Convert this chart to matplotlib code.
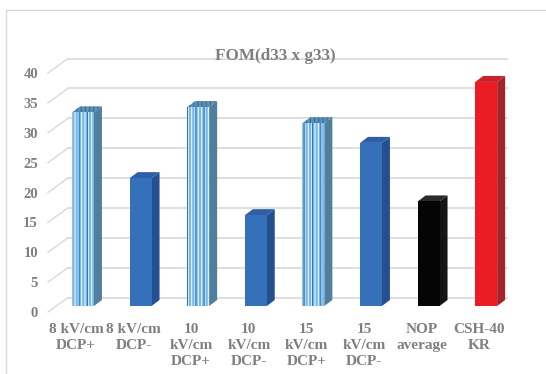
import matplotlib
matplotlib.use("Agg")
import matplotlib.pyplot as plt
import matplotlib.transforms as mtransforms
from matplotlib.patches import Polygon
from matplotlib.lines import Line2D

# ---- data ----
categories = ["8 kV/cm\nDCP+", "8 kV/cm\nDCP-", "10\nkV/cm\nDCP+", "10\nkV/cm\nDCP-",
              "15\nkV/cm\nDCP+", "15\nkV/cm\nDCP-", "NOP\naverage", "CSH-40\nKR"]
values = [32.4, 21.4, 33.3, 15.2, 30.6, 27.3, 17.5, 37.5]
styles = ["stripe", "blue", "stripe", "blue", "stripe", "blue", "black", "red"]
yticks = [0, 5, 10, 15, 20, 25, 30, 35, 40]
title = "FOM(d33 x g33)"

# ---- style ----
DPI = 100
W, H = 546, 374
plt.rcParams['font.family'] = ['Liberation Serif', 'DejaVu Serif']
plt.rcParams['hatch.linewidth'] = 0.8
GRAY = "#7f7f7f"
GRID = "#d9d9d9"

face = {
    "stripe": ("#7ab7e2", "#4f7f9c", "#5c8fb5"),
    "blue": ("#3570bb", "#25508f", "#2d5ea6"),
    "black": ("#050505", "#141414", "#2a2a2a"),
    "red": ("#ec1c24", "#a3252b", "#c8222a"),
}

fig = plt.figure(figsize=(W / DPI, H / DPI), dpi=DPI)
xmin, xmax = -0.7, 7.5
px_per_x = 57.6
px_per_y = 5.975
L = 83 - (0 - xmin) * px_per_x
axw = (xmax - xmin) * px_per_x
bottom_px = 306
ymax = 42
axh = ymax * px_per_y
ax = fig.add_axes([L / W, (H - bottom_px) / H, axw / W, axh / H])
ax.set_xlim(xmin, xmax)
ax.set_ylim(0, ymax)
for s in ax.spines.values():
    s.set_visible(False)
ax.patch.set_alpha(0)

# 3D offsets in data units
dep_x, dep_y = 8 / px_per_x, 6 / px_per_y          # bar depth
fr_x, fr_y = -8 / px_per_x, -6 / px_per_y         # front floor plane
bk_x, bk_y = 12 / px_per_x, 8.5 / px_per_y        # back wall plane
xg0 = -27 / px_per_x
xg1 = (507 - 83 - 12) / px_per_x

# gridlines (diagonal on side wall + horizontal on back wall)
for v in yticks:
    ax.add_line(Line2D([xg0 + fr_x, xg0 + bk_x], [v + fr_y, v + bk_y], color=GRID, lw=1.0,
                       zorder=0, clip_on=False))
    ax.add_line(Line2D([xg0 + bk_x, xg1 + bk_x], [v + bk_y, v + bk_y], color=GRID, lw=1.2,
                       zorder=0, clip_on=False))

bw = 0.38
for i, (v, st) in enumerate(zip(values, styles)):
    fc, sc, tc = face[st]
    x0, x1 = i - bw / 2, i + bw / 2
    side = Polygon([(x1, 0), (x1 + dep_x, dep_y), (x1 + dep_x, v + dep_y), (x1, v)],
                   closed=True, facecolor=sc, edgecolor='none', zorder=2)
    top = Polygon([(x0, v), (x1, v), (x1 + dep_x, v + dep_y), (x0 + dep_x, v + dep_y)],
                  closed=True, facecolor=tc, edgecolor='none', zorder=2)
    ax.add_patch(side)
    ax.add_patch(top)
    if st == "stripe":
        ax.bar(i, v, width=bw, color=fc, edgecolor='#e8f4ff', linewidth=0, hatch='|||||', zorder=3)
        ax.bar(i, v, width=bw, color='none', edgecolor='#1f7ad0', linewidth=0, hatch='||', zorder=3)
        top.set_hatch('||||')
        top.set_edgecolor('#3d6e96')
        top.set_linewidth(0)
    else:
        ax.bar(i, v, width=bw, color=fc, edgecolor='none', linewidth=0, zorder=3)

# ticks & labels
ax.set_yticks(yticks)
ax.set_yticklabels([str(t) for t in yticks], fontsize=10.5, fontweight='bold', color=GRAY)
ax.set_xticks(range(len(categories)))
ax.set_xticklabels(categories, fontsize=11, fontweight='bold', color=GRAY,
                   linespacing=1.3, multialignment='center')
ax.tick_params(axis='both', length=0)
ax.tick_params(axis='y', pad=3.4)
ax.tick_params(axis='x', pad=12.5)
yoff = mtransforms.ScaledTranslation(0, -6 / DPI, fig.dpi_scale_trans)
xoff = mtransforms.ScaledTranslation(-7 / DPI, 0, fig.dpi_scale_trans)
for lab in ax.get_yticklabels():
    lab.set_transform(lab.get_transform() + yoff)
for lab in ax.get_xticklabels():
    lab.set_transform(lab.get_transform() + xoff)

# title
fig.text(275.5 / W, 1 - 56 / H, title, ha='center', va='center', fontsize=12.3,
         fontweight='bold', color=GRAY)

# chart border
fig.add_artist(Line2D([6 / W, 6 / W], [0, 1 - 10 / H], transform=fig.transFigure, color=GRID, lw=1.0))
fig.add_artist(Line2D([6 / W, 1], [1 - 10 / H, 1 - 10 / H], transform=fig.transFigure, color=GRID, lw=1.0))

fig.savefig("out.png", dpi=DPI)
